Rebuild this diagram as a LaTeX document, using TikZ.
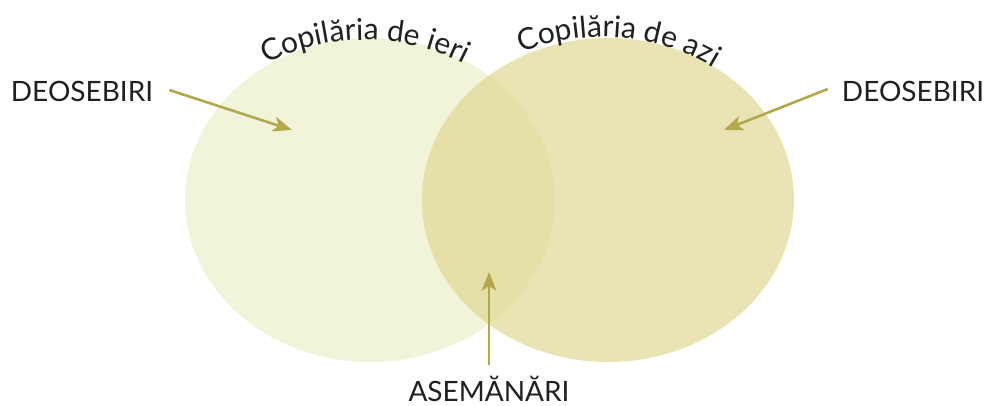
\documentclass[tikz,border=0pt]{standalone}
\usepackage{fontspec}
\setmainfont{Lato}
\usetikzlibrary{arrows.meta,decorations.text}

\definecolor{ieri}{RGB}{241,244,217}
\definecolor{azi}{RGB}{234,228,181}
\definecolor{comun}{RGB}{228,224,167}
\definecolor{sageata}{RGB}{180,168,76}
\definecolor{scris}{RGB}{35,31,32}

\tikzset{
    eticheta/.style={text=scris, font=\fontsize{28}{30}\selectfont, inner sep=0pt},
    sageata/.style={line width=2.6pt, draw=sageata, -{Stealth[length=19pt,width=15pt,inset=5pt]}}
}

\begin{document}
\begin{tikzpicture}[x=1pt, y=1pt]
            \useasboundingbox (0,0) rectangle (987,405);

            \fill[ieri] (370,205) ellipse [x radius=185, y radius=162];
            \fill[azi] (608,205) ellipse [x radius=186, y radius=162];
            \begin{scope}
                \clip (370,205) ellipse [x radius=185, y radius=162];
                \fill[comun] (608,205) ellipse [x radius=186, y radius=162];
            \end{scope}

            % titlurile pe arc
            \path[decorate, decoration={text along path, text align=center,
                text={|\color{scris}\fontsize{30}{32}\selectfont|Copilăria de ieri}}]
                (365,147) ++(124:218) arc [start angle=124, end angle=56, radius=218];
            \path[decorate, decoration={text along path, text align=center,
                text={|\color{scris}\fontsize{30}{32}\selectfont|Copilăria de azi}}]
                (602,151) ++(117:217) arc [start angle=117, end angle=54, radius=217];

            \node[eticheta] (deoL) at (82,314) {DEOSEBIRI};
            \node[eticheta] (deoR) at (913,314) {DEOSEBIRI};
            \node[eticheta] (asem) at (489,16) {ASEMĂNĂRI};

            \coordinate (tL) at (292,275);
            \coordinate (tR) at (724,275);
            \coordinate (tM) at (489,133);

            \draw[sageata] ([xshift=16pt,yshift=1pt]deoL.east) -- (tL);
            \draw[sageata] ([xshift=-14pt,yshift=2pt]deoR.west) -- (tR);
            \draw[sageata] ([yshift=11pt]asem.north) -- (tM);
        \end{tikzpicture}
\end{document}
